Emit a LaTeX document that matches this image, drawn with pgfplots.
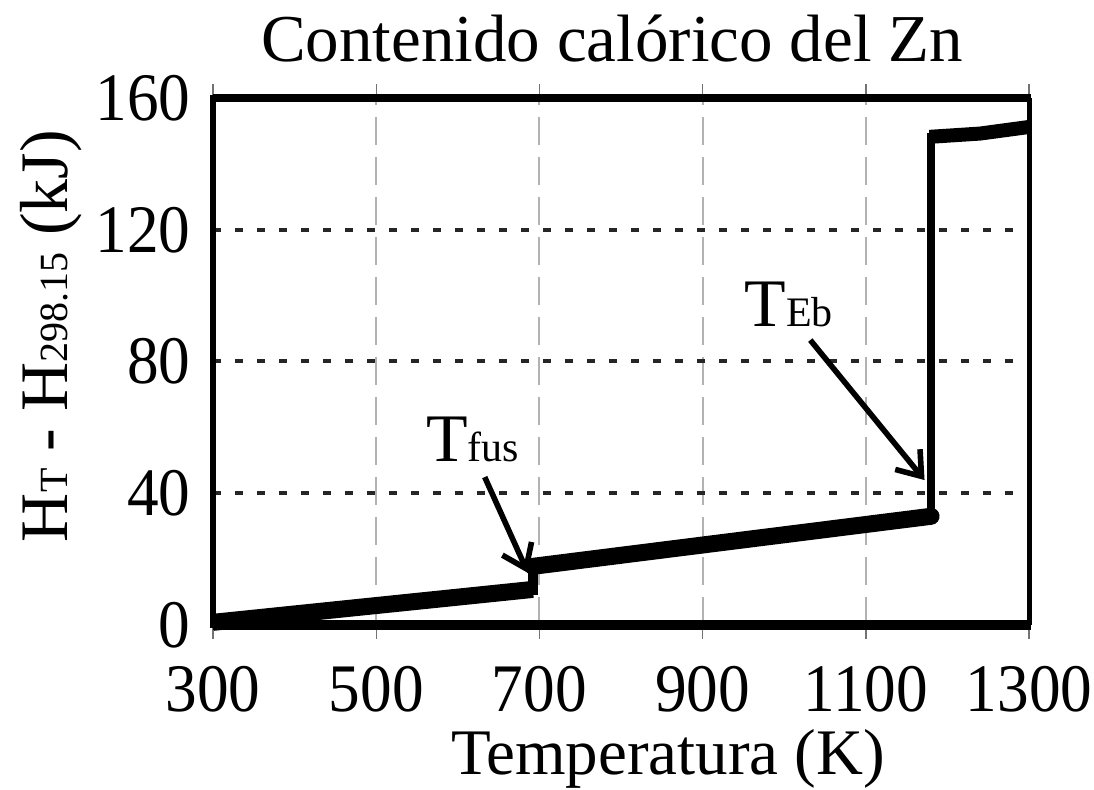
\documentclass[border=0pt]{standalone}
\usepackage{fontspec}
\setmainfont{Liberation Serif}
\newfontfamily\tickfont{Liberation Serif}[FakeStretch=0.93]
\usepackage{pgfplots}
\pgfplotsset{compat=1.18}
\usetikzlibrary{arrows.meta}
\newcommand\sm[1]{{\fontsize{20}{20}\selectfont #1}}
\newcommand\smb[1]{{\fontsize{21}{21}\selectfont #1}}
\begin{document}
\begin{tikzpicture}[x=1pt,y=1pt]
\begin{axis}[
  at={(106.5pt,82.5pt)}, anchor=south west,
  width=408pt, height=263.5pt, scale only axis,
  xmin=300, xmax=1300, ymin=0, ymax=160,
  xtick={300,500,...,1300}, ytick={0,40,...,160},
  /pgf/number format/assume math mode=true,
  /pgf/number format/1000 sep={},
  ticklabel style={font=\tickfont\fontsize{34}{34}\selectfont, inner sep=0pt},
  xticklabel style={anchor=base, yshift=-36.5pt},
  yticklabel style={anchor=east, xshift=-11pt},
  axis line style={draw=none},
  xtick align=outside,
  x tick style={black!55, line width=0.7pt},
  major tick length=7pt,
  y tick style={draw=none},
  xmajorgrids, ymajorgrids,
  major x grid style={gray!60, line width=1pt, dash pattern=on 14pt off 6pt},
  major y grid style={black!85, line width=2pt, dash pattern=on 4pt off 7pt},
  clip=false,
]
% borders
\draw[line width=3pt] (rel axis cs:0,-0.005) -- (rel axis cs:0,1.005);
\draw[line width=2.5pt] (rel axis cs:1,0) -- (rel axis cs:1,1);
\draw[line width=4pt] (rel axis cs:0,1) -- (rel axis cs:1.003,1);
\draw[line width=5pt] (rel axis cs:0,0) -- (rel axis cs:1.003,0);
% data
\addplot[black, line width=8.5pt] coordinates {(300,0.8) (692,10.8)};
\addplot[black, line width=5pt] coordinates {(692,9.0) (692,19.5)};
\addplot[black, line width=8.5pt, line cap=round] coordinates {(692,17.8) (1180,33.0)};
\addplot[black, line width=4pt] coordinates {(1180,31.5) (1180,149.5)};
\addplot[black, line width=7pt, line join=round] coordinates {(1178,148.2) (1240,149.2) (1300,151.2)};
% annotations
\node[anchor=base west, inner sep=0pt, font=\fontsize{34}{34}\selectfont] at (axis cs:561,49.5) {T\smb{fus}};
\node[anchor=base west, inner sep=0pt, font=\fontsize{34}{34}\selectfont] at (axis cs:951,90.5) {T\smb{Eb}};
\draw[line width=2.8pt, -{Straight Barb[length=11pt, width=16pt, line width=2.8pt]}] (axis cs:633,44.9) -- (axis cs:686,15.8);
\draw[line width=2.8pt, -{Straight Barb[length=11pt, width=16pt, line width=2.8pt]}] (axis cs:1032,86.5) -- (axis cs:1172,44.0);
\end{axis}
\node[anchor=base, inner sep=0pt, font=\fontsize{33.5}{33.5}\selectfont] at (306pt,364pt) {Contenido calórico del Zn};
\node[anchor=base, inner sep=0pt, font=\fontsize{32.5}{32.5}\selectfont] at (334pt,7.5pt) {Temperatura (K)};
\node[anchor=base, inner sep=0pt, rotate=90, font=\fontsize{34}{34}\selectfont] at (34pt,227pt) {H\sm{T} - H\sm{298.15} (kJ)};
\pgfresetboundingbox
\path[use as bounding box] (0,0) rectangle (547pt,395pt);
\end{tikzpicture}
\end{document}
